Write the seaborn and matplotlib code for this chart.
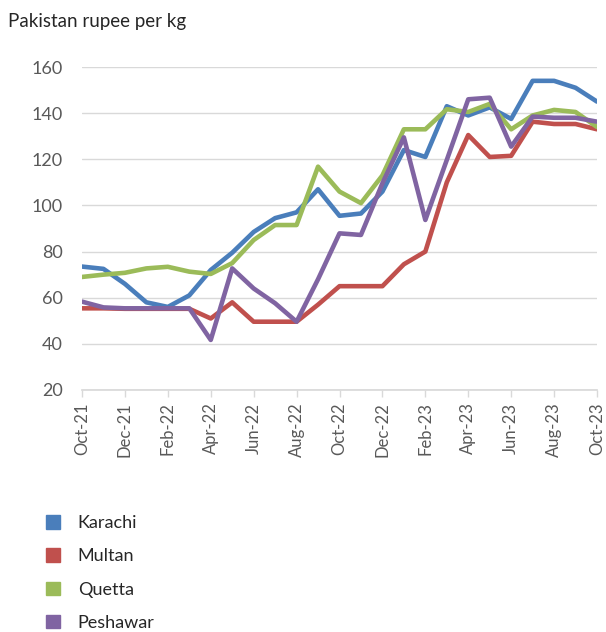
import numpy as np
import pandas as pd
import seaborn as sns
import matplotlib.pyplot as plt
from matplotlib.patches import Patch

# =====================================#
# DATA (Oct-21 .. Oct-23 monthly)
# =====================================#
months = ["Oct-21", "Nov-21", "Dec-21", "Jan-22", "Feb-22", "Mar-22", "Apr-22",
          "May-22", "Jun-22", "Jul-22", "Aug-22", "Sep-22", "Oct-22", "Nov-22",
          "Dec-22", "Jan-23", "Feb-23", "Mar-23", "Apr-23", "May-23", "Jun-23",
          "Jul-23", "Aug-23", "Sep-23", "Oct-23"]

karachi = [73.5, 72.5, 66, 58, 56, 61, 72, 79.5, 88.5, 94.5, 97, 107, 95.5,
           96.5, 106, 124, 121, 143, 139, 142.5, 137.5, 154, 154, 151, 145]
multan = [55.4, 55.4, 55.2, 55.2, 55.2, 55.2, 51, 58, 49.6, 49.6, 49.6, 57,
          65, 65, 65, 74.5, 80, 110, 130.5, 121, 121.5, 136.3, 135.3, 135.3, 133]
quetta = [69, 70, 70.8, 72.7, 73.4, 71.3, 70.3, 75, 85, 91.5, 91.5, 116.8, 106,
          101, 113, 133, 133, 141.7, 140.5, 144, 133, 139, 141.4, 140.5, 134]
peshawar = [58.3, 55.8, 55.4, 55.4, 55.4, 55.4, 41.7, 72.7, 64, 57.6, 49.6, 68,
            87.9, 87.2, 109.6, 129.5, 93.7, 119.7, 146, 146.7, 125.5, 138.5, 138,
            138, 136.3]

cities = ["Karachi", "Multan", "Quetta", "Peshawar"]
colors = ["#4A7EBB", "#C0504D", "#9BBB59", "#8064A2"]
y_ticks = [20, 40, 60, 80, 100, 120, 140, 160]

# =====================================#
# PLOT
# =====================================#
sns.set_theme(style="white")
plt.rcParams["font.family"] = ["Lato", "DejaVu Sans"]

df = pd.DataFrame({"Karachi": karachi, "Multan": multan,
                   "Quetta": quetta, "Peshawar": peshawar})
df["idx"] = np.arange(len(months))
long = df.melt(id_vars="idx", var_name="city", value_name="price")

fig = plt.figure(figsize=(6.06, 6.32), dpi=100)
ax = fig.add_axes([82 / 606, 1 - 390 / 632, 515 / 606, 323 / 632])

sns.lineplot(data=long, x="idx", y="price", hue="city", hue_order=cities,
             palette=colors, linewidth=3.3, legend=False, ax=ax)

ax.set_xlim(0, len(months) - 1)
ax.set_ylim(20, 160)
ax.set_yticks(y_ticks)
ax.set_xticks(np.arange(0, len(months), 2))
ax.set_xticklabels(months[::2], rotation=90)
ax.set_xlabel("")
ax.set_ylabel("")

ax.yaxis.grid(True, color="#D9D9D9", linewidth=1)
ax.set_axisbelow(True)
for s in ["top", "right", "left"]:
    ax.spines[s].set_visible(False)
ax.spines["bottom"].set_color("#D9D9D9")
ax.tick_params(axis="y", length=0, pad=14, labelsize=13, labelcolor="#595959")
ax.tick_params(axis="x", bottom=True, length=5, width=1, color="#D9D9D9",
               pad=4, labelsize=12, labelcolor="#595959")

fig.text(8 / 606, 1 - 22 / 632, "Pakistan rupee per kg", fontsize=13.5,
         color="#262626", va="center", ha="left")

handles = [Patch(facecolor=c, edgecolor=c) for c in colors]
fig.legend(handles, cities, loc="upper left",
           bbox_to_anchor=(30 / 606, 1 - 499 / 632), frameon=False,
           fontsize=13, handlelength=0.75, handleheight=0.75,
           labelspacing=0.95, handletextpad=1.0, labelcolor="#262626")

plt.savefig("out.png", dpi=100)
